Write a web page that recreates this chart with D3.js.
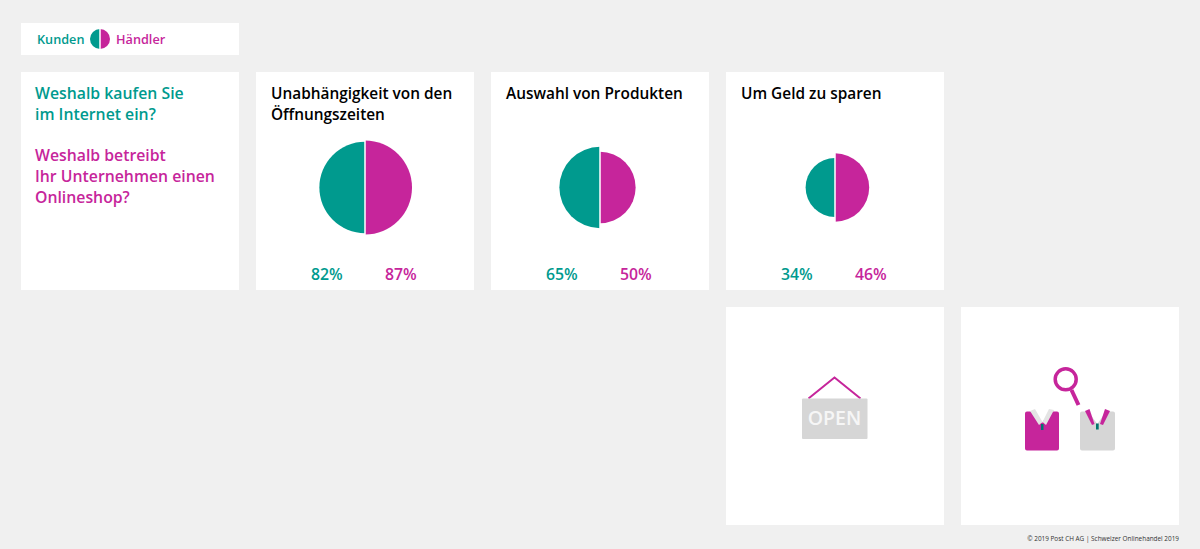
<!DOCTYPE html>
<html>
<head>
<meta charset="utf-8">
<script src="https://d3js.org/d3.v7.min.js"></script>
<style>
  html, body { margin: 0; padding: 0; background: #f0f0f0; }
  svg { display: block; }
  text { font-family: "Open Sans", sans-serif; }
</style>
</head>
<body>
<div id="chart"></div>
<script>
// data
var categories = [["Unabhängigkeit von den", "Öffnungszeiten"], ["Auswahl von Produkten"], ["Um Geld zu sparen"]];
var kunden = [82, 65, 34];
var haendler = [87, 50, 46];
var seriesNames = ["Kunden", "Händler"];
var questionKunden = ["Weshalb kaufen Sie", "im Internet ein?"];
var questionHaendler = ["Weshalb betreibt", "Ihr Unternehmen einen", "Onlineshop?"];
var copyright = "© 2019 Post CH AG | Schweizer Onlinehandel 2019";

var teal = "#009a8e";
var magenta = "#c6259b";
var grey = "#d6d6d6";
var collarGrey = "#e4e4e4";
var tieTeal = "#00776e";

var svg = d3.select("#chart").append("svg")
    .attr("width", 1200)
    .attr("height", 549);

var cardSize = 218;
var xScale = d3.scaleBand()
    .domain(d3.range(5))
    .range([21, 1179 + 17])
    .paddingInner(0)
    .paddingOuter(0);
var rScale = d3.scaleSqrt().domain([0, 100]).range([0, 50.4]);

function card(x, y, w, h) {
    return svg.append("rect").attr("x", x).attr("y", y)
        .attr("width", w).attr("height", h).attr("fill", "#fff");
}

function lines(items, x, y, step, color, size) {
    svg.append("g").selectAll("text")
        .data(items)
        .enter()
        .append("text")
        .attr("x", x)
        .attr("y", (d, i) => y + i * step)
        .attr("fill", color)
        .attr("font-size", size)
        .attr("font-weight", 600)
        .text(d => d);
}

// half circle, side -1 is left and 1 is right
function half(cx, cy, r, side, color) {
    var arc = d3.arc().innerRadius(0).outerRadius(r)
        .startAngle(0).endAngle(side * Math.PI);
    svg.append("path")
        .attr("transform", `translate(${cx}, ${cy})`)
        .attr("d", arc())
        .attr("fill", color);
}

function shape(d, color) {
    return svg.append("path").attr("d", d).attr("fill", color);
}

// legend
card(21, 23, 218, 32);
lines([seriesNames[0]], 37, 44, 0, teal, 12.7);
lines([seriesNames[1]], 116, 44, 0, magenta, 12.7);
half(100, 39, 10, -1, teal);
half(100, 39, 10, 1, magenta);
svg.append("line").attr("x1", 100).attr("x2", 100).attr("y1", 28).attr("y2", 50)
    .attr("stroke", "#fff").attr("stroke-width", 1.5);

// question card
card(21, 72, cardSize, cardSize);
lines(questionKunden, 35, 99, 21, teal, 15.8);
lines(questionHaendler, 35, 161, 21, magenta, 15.8);

// pie cards
categories.forEach(function(cat, i) {
    var x = xScale(i + 1);
    card(x, 72, cardSize, cardSize);
    lines(cat, x + 15, 99, 21, "#000", 15.4);
    var cx = x + 109, cy = 187.5;
    half(cx, cy, rScale(kunden[i]), -1, teal);
    half(cx, cy, rScale(haendler[i]), 1, magenta);
    svg.append("line").attr("x1", cx).attr("x2", cx)
        .attr("y1", cy - 48).attr("y2", cy + 48)
        .attr("stroke", "#fff").attr("stroke-width", 1.5);
    lines([kunden[i] + "%"], x + 55, 280, 0, teal, 15.8);
    lines([haendler[i] + "%"], x + 129, 280, 0, magenta, 15.8);
});

// icon cards
card(726, 307, cardSize, cardSize);
card(961, 307, cardSize, cardSize);

// open sign
svg.append("path").attr("d", "M808.5 398.5L834.5 377.5L860.5 398.5")
    .attr("fill", "none").attr("stroke", magenta).attr("stroke-width", 2);
svg.append("rect").attr("x", 802).attr("y", 398.5).attr("width", 65.5).attr("height", 40.5)
    .attr("rx", 1).attr("fill", grey);
svg.append("text").attr("x", 834.5).attr("y", 425)
    .attr("text-anchor", "middle").attr("fill", "#f6f6f6")
    .attr("font-size", 19.5).attr("font-weight", 600).text("OPEN");

// magnifier
svg.append("circle").attr("cx", 1065.7).attr("cy", 379.3).attr("r", 10.5)
    .attr("fill", "#fff").attr("stroke", magenta).attr("stroke-width", 3.5);
svg.append("line").attr("x1", 1071.5).attr("y1", 390).attr("x2", 1078.5).attr("y2", 405)
    .attr("stroke", magenta).attr("stroke-width", 4);

// left shirt
shape("M1027 411.5H1032L1042 423L1050 411.5H1057Q1059 411.5 1059 413.5V448.5Q1059 450.5 1057 450.5H1027Q1025 450.5 1025 448.5V413.5Q1025 411.5 1027 411.5Z", magenta);
shape("M1030 411L1035 409L1042.5 422L1039 425Z", collarGrey);
shape("M1054 410L1049 409L1042.5 422L1046 425Z", collarGrey);
shape("M1041 424H1043.5V430H1041Z", tieTeal);

// right shirt
shape("M1082 411.5H1088L1097.3 424L1106 411.5H1113Q1115 411.5 1115 413.5V448.5Q1115 450.5 1113 450.5H1082Q1080 450.5 1080 448.5V413.5Q1080 411.5 1082 411.5Z", grey);
shape("M1085 411L1089.5 409L1094.5 424L1092 425Z", magenta);
shape("M1110 411L1105 409L1100 424L1103 425Z", magenta);
shape("M1096 423.5H1098.7V429.5H1096Z", tieTeal);

// footer
svg.append("text").attr("x", 1179).attr("y", 541)
    .attr("text-anchor", "end").attr("fill", "#333")
    .attr("font-size", 6.4).text(copyright);
</script>
</body>
</html>
